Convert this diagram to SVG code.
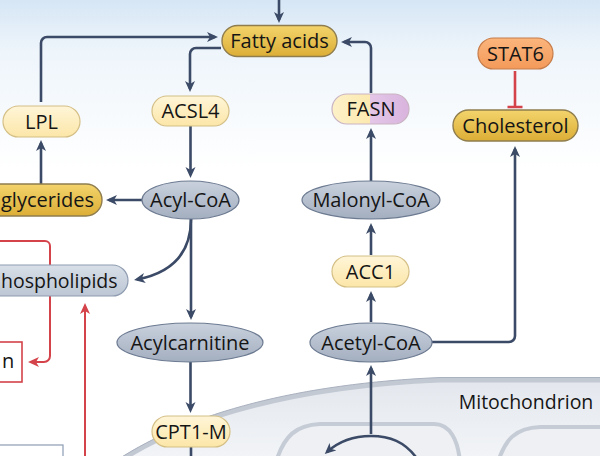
<svg xmlns="http://www.w3.org/2000/svg" width="600" height="456" viewBox="0 0 600 456">
<defs>
<linearGradient id="bg" x1="0" y1="0" x2="0" y2="1"><stop offset="0" stop-color="#d6e6f5"/><stop offset="0.3" stop-color="#eef5fb"/><stop offset="1" stop-color="#ffffff"/></linearGradient>
<linearGradient id="gGold" x1="0" y1="0" x2="0" y2="1"><stop offset="0" stop-color="#f3d46c"/><stop offset="1" stop-color="#dcae36"/></linearGradient>
<linearGradient id="gLY" x1="0" y1="0" x2="0" y2="1"><stop offset="0" stop-color="#fff6d8"/><stop offset="1" stop-color="#fce6a8"/></linearGradient>
<linearGradient id="gOr" x1="0" y1="0" x2="0" y2="1"><stop offset="0" stop-color="#fbb57c"/><stop offset="1" stop-color="#f39a5a"/></linearGradient>
<linearGradient id="gFasn" x1="0" y1="0" x2="1" y2="0"><stop offset="0" stop-color="#fdf1c8"/><stop offset="0.5" stop-color="#fce9b0"/><stop offset="0.5" stop-color="#e4c6e8"/><stop offset="1" stop-color="#d9b4de"/></linearGradient>
<linearGradient id="gEll" x1="0" y1="0" x2="0" y2="1"><stop offset="0" stop-color="#c9d1dd"/><stop offset="1" stop-color="#a3aebf"/></linearGradient>
<linearGradient id="gPh" x1="0" y1="0" x2="0" y2="1"><stop offset="0" stop-color="#d8dfe8"/><stop offset="1" stop-color="#bcc6d4"/></linearGradient>
<linearGradient id="gMito" x1="0" y1="0" x2="0" y2="1"><stop offset="0" stop-color="#e3e7ed"/><stop offset="1" stop-color="#f3f5f8"/></linearGradient>
<marker id="ah" markerUnits="userSpaceOnUse" markerWidth="12" markerHeight="12" viewBox="0 0 12 12" refX="8" refY="6" orient="auto"><path d="M0,1 L11,6 L0,11 L3,6 Z" fill="#3b4a66"/></marker>
<marker id="ahr" markerUnits="userSpaceOnUse" markerWidth="12" markerHeight="12" viewBox="0 0 12 12" refX="8" refY="6" orient="auto"><path d="M0,1 L11,6 L0,11 L3,6 Z" fill="#d4434a"/></marker>
<style>
.t{font-family:"Open Sans","Liberation Sans",sans-serif;font-size:20px;fill:#151515;text-anchor:middle}
.gold{fill:url(#gGold);stroke:#8f7d4e;stroke-width:1.4}
.ly{fill:url(#gLY);stroke:#d4bf86;stroke-width:1.2}
.ell{fill:url(#gEll);stroke:#6c7a91;stroke-width:1.2}
.a{fill:none;stroke:#3b4a66;stroke-width:2.6;marker-end:url(#ah)}
.l{fill:none;stroke:#3b4a66;stroke-width:2.6}
.r{fill:none;stroke:#d4434a;stroke-width:2}
.ra{fill:none;stroke:#d4434a;stroke-width:2;marker-end:url(#ahr)}
.mem{fill:url(#gMito);stroke:#c3c9d3;stroke-width:5}
.cr{fill:#eef0f4;stroke:#c6ccd6;stroke-width:4}
</style>
</defs>
<rect x="0" y="0" width="600" height="456" fill="#ffffff"/>
<rect x="0" y="0" width="600" height="170" fill="url(#bg)"/>

<g id="mitochondrion">
<path class="mem" d="M118,462 C190,415 300,386 440,380 L610,380 L610,462 Z"/>
<path d="M118,462 C190,415 300,386 440,380 L610,380" fill="none" stroke="#aab2c0" stroke-width="1" transform="translate(0,-2.5)"/>
<path class="cr" d="M276,462 C284,436 296,425 320,424 L434,424 C450,424 458,440 460,462 Z"/>
<path class="cr" d="M498,462 C505,440 515,428 540,427 L610,427 L610,462 Z"/>
<text class="t" x="526" y="409" style="font-size:19.5px">Mitochondrion</text>
</g>

<g id="connectors">
<path class="a" d="M279,0 V20"/>
<path class="a" d="M41,102 V43 A6,6 0 0 1 47,37 H215"/>
<path class="a" d="M221,48 H196 A6,6 0 0 0 190,54 V89"/>
<path class="a" d="M371,93 V48 A6,6 0 0 0 365,42 H344"/>
<path class="a" d="M190.5,126 V175"/>
<path class="a" d="M142,200 H109"/>
<path class="a" d="M41,184 V143"/>
<path class="a" d="M191,219 C191,250 176,272 137,279.5"/>
<path class="a" d="M191,219 V317"/>
<path class="a" d="M190.5,362 V410"/>
<path class="l" d="M191,447 V460"/>
<path class="a" d="M371,434 V368"/>
<path class="a" d="M371,322 V294"/>
<path class="a" d="M371,255 V226"/>
<path class="a" d="M371,181 V131"/>
<path class="a" d="M432,342 H509 A6,6 0 0 0 515,336 V149"/>
<path class="a" d="M418,460 C405,441 389,436 371,436 C353,436 338,442 327,452"/>
<path class="r" d="M-5,241 H45 A5,5 0 0 1 50,246 V356 A6,6 0 0 1 44,362 H31" style="marker-end:url(#ahr)"/>
<path class="ra" d="M85,460 V306"/>
<path d="M515,71 V107 M507.5,107 H522.5" fill="none" stroke="#d4434a" stroke-width="2.6"/>
</g>

<g id="fatty-acids"><rect class="gold" x="222" y="25.5" width="115" height="31" rx="15.5"/><text class="t" x="279.5" y="48">Fatty acids</text></g>
<g id="acsl4"><rect class="ly" x="152" y="96" width="77" height="30" rx="15"/><text class="t" x="190.5" y="118">ACSL4</text></g>
<g id="lpl"><rect class="ly" x="3" y="106" width="77" height="31" rx="15.5"/><text class="t" x="41.5" y="128.5">LPL</text></g>
<g id="fasn"><rect x="332" y="94" width="77" height="30" rx="15" fill="url(#gFasn)" stroke="#c9b3c2" stroke-width="1.2"/><text class="t" x="371" y="116">FASN</text></g>
<g id="stat6"><rect x="478" y="38" width="75" height="31" rx="15.5" fill="url(#gOr)" stroke="#c67c4a" stroke-width="1.2"/><text class="t" x="515.5" y="60.5">STAT6</text></g>
<g id="cholesterol"><rect class="gold" x="453" y="110" width="125" height="31" rx="15.5"/><text class="t" x="515.5" y="132.5">Cholesterol</text></g>
<g id="triglycerides"><rect class="gold" x="-30" y="184" width="132" height="32" rx="16"/><text class="t" x="1" y="207" style="text-anchor:start">glycerides</text></g>
<g id="acyl-coa"><ellipse class="ell" cx="190.5" cy="200" rx="48.5" ry="19"/><text class="t" x="190.5" y="207">Acyl-CoA</text></g>
<g id="phospholipids"><rect x="-30" y="265" width="158" height="31" rx="15.5" fill="url(#gPh)" stroke="#8e9bb0" stroke-width="1.2"/><text class="t" x="1" y="288" style="text-anchor:start;font-size:19.5px">hospholipids</text></g>
<g id="acylcarnitine"><ellipse class="ell" cx="190" cy="342.5" rx="73" ry="19.5"/><text class="t" x="190" y="349.5">Acylcarnitine</text></g>
<g id="cpt1m"><rect class="ly" x="152" y="416" width="78" height="31" rx="15.5"/><text class="t" x="191" y="438.5">CPT1-M</text></g>
<g id="malonyl-coa"><ellipse class="ell" cx="371" cy="200" rx="69" ry="19"/><text class="t" x="371" y="207">Malonyl-CoA</text></g>
<g id="acc1"><rect class="ly" x="332" y="256" width="77" height="31" rx="15.5"/><text class="t" x="370.5" y="278.5">ACC1</text></g>
<g id="acetyl-coa"><ellipse class="ell" cx="371" cy="342.5" rx="61" ry="19.5"/><text class="t" x="371" y="349.5">Acetyl-CoA</text></g>
<g id="red-box"><rect x="-10" y="342" width="32" height="40" fill="#ffffff" stroke="#d4434a" stroke-width="1.6"/><text class="t" x="2" y="368" style="text-anchor:start">n</text></g>
<g id="gray-box"><rect x="-10" y="445" width="73" height="30" fill="#ffffff" stroke="#8d9bb2" stroke-width="1.2"/></g>
</svg>
